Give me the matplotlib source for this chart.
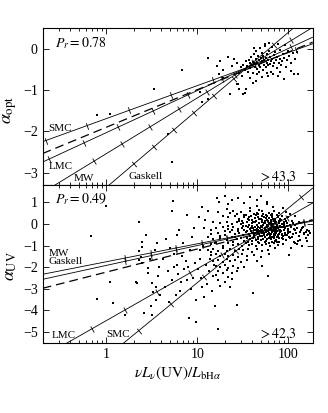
import numpy as np
import matplotlib.pyplot as plt
from matplotlib.ticker import LogLocator, FuncFormatter, NullFormatter, MultipleLocator

plt.rcParams['font.family'] = ['Liberation Serif', 'DejaVu Serif']
plt.rcParams['mathtext.fontset'] = 'stix'

# ---- top panel: alpha_opt ----
opt_pts = [
    (0.79, -1.61), (1.09, -1.59), (3.38, -0.97), (6.75, -0.52), (4.74, -2.07), (5.24, -2.74),
    (13.2, -0.23), (10.7, -1.05), (11.2, -1.29), (13.2, -1.21), (17.7, -0.30), (22.8, -1.10),
    (28.1, -0.86), (33.3, -1.06), (44.7, -0.78), (108, -0.54), (128, -0.62), (19.0, -0.50),
    (17.4, -0.62), (19.3, -0.70), (31.8, -1.10), (34.7, -0.98), (28.8, -0.97), (27, -0.85),
    (41, -0.82), (16.3, -0.42), (21.9, -0.19),
    (30.5, -0.45), (32.0, -0.38), (33.5, -0.52), (34.0, -0.30), (35.2, -0.41), (36.0, -0.55),
    (36.8, -0.26), (37.5, -0.35), (38.4, -0.47), (39.0, -0.20), (39.8, -0.40), (40.5, -0.31),
    (41.2, -0.58), (41.9, -0.12), (42.5, -0.36), (43.1, -0.44), (43.8, -0.25), (44.6, -0.05),
    (45.2, -0.33), (45.9, -0.48), (46.5, -0.18), (47.2, -0.39), (47.8, -0.28), (48.5, 0.03),
    (49.1, -0.43), (49.8, -0.22), (50.4, -0.35), (51.0, -0.10), (51.8, -0.30), (52.5, -0.52),
    (53.2, -0.17), (54.0, -0.38), (54.8, -0.26), (55.5, 0.08), (56.3, -0.45), (57.0, -0.21),
    (57.8, -0.33), (58.6, -0.12), (59.5, -0.40), (60.4, -0.27), (61.3, -0.05), (62.2, -0.36),
    (63.1, -0.19), (64.0, -0.55), (65.0, -0.30), (66.0, 0.05), (67.1, -0.24), (68.2, -0.42),
    (69.3, -0.15), (70.5, -0.33), (71.8, -0.08), (73.0, -0.28), (74.4, -0.47), (75.8, -0.20),
    (77.2, 0.12), (78.8, -0.35), (80.4, -0.25), (82.0, -0.02), (84.0, -0.40), (86.0, -0.30),
    (88.0, -0.12), (90.5, -0.22), (93.0, 0.10), (96.0, -0.28), (99.0, -0.05), (103, -0.18),
    (107, -0.35), (112, -0.10), (118, -0.25), (125, -0.08), (45.0, -0.62), (52.0, -0.68),
    (60.0, -0.65), (68.0, -0.60), (77.0, -0.66), (90.0, -0.72), (38.0, -0.70), (55.0, 0.12),
    (62.0, 0.15), (48.0, -0.55), (27.0, -0.33), (25.5, -0.24), (29.0, -0.58), (24.0, -0.42),
    (31.0, -0.66), (42.0, 0.02), (58.0, -0.58), (82.0, -0.55), (95.0, -0.45), (115, -0.60),
]

# reddening lines: alpha = b + m*log10(x); ticks at given x
opt_names = ['SMC', 'LMC', 'MW', 'Gaskell']
opt_b = [-1.69, -2.03, -2.54, -3.36]
opt_m = [0.80, 1.02, 1.35, 1.88]
opt_ticks = [
    [0.216, 0.617, 1.78, 5.13, 14.8, 42.7, 123],
    [0.237, 0.569, 1.36, 3.27, 7.85, 18.8, 45.2, 108],
    [0.733, 1.50, 3.05, 6.24, 12.7, 26.0, 53.1, 108],
    [2.0, 3.31, 5.5, 9.12, 15.1, 25.1, 41.7, 69.2],
]
opt_fit = (-1.90, 0.91)

# ---- bottom panel: alpha_UV ----
uv_pts = [
    (1.0, 0.85), (0.68, -0.58), (0.79, -3.49), (1.18, -3.68), (1.1, -2.67), (1.61, -4.22),
    (2.3, 0.07), (2.7, -0.50), (2.5, -0.85), (2.45, -1.07), (2.3, -1.25), (2.4, -1.51),
    (2.3, -1.69), (2.5, -1.81), (2.9, -2.05), (2.9, -2.28), (2.1, -2.71), (2.2, -2.75),
    (3.2, -2.74), (3.3, -3.13), (3.2, -4.22), (2.6, -4.14), (3.5, -3.5), (3.0, -1.6),
    (3.4, -1.2), (3.6, -0.9), (3.8, -2.0), (3.7, -2.4), (3.5, -2.9), (3.9, -3.3), (3.1, -3.8),
    (5.46, 1.05), (5.24, 0.59), (7.65, 0.40), (4.5, -0.7), (5.0, -1.1), (5.5, -1.4), (6.0, -1.9),
    (4.2, -1.6), (4.8, -2.2), (5.3, -2.6), (6.2, -2.3), (6.8, -1.5), (7.2, -2.1), (7.8, -2.6),
    (8.1, -4.37), (9.8, -4.53), (6.5, -3.1), (5.8, -3.3), (8.5, -3.0), (9.0, -2.5), (7.0, -0.9),
    (8.3, -1.2), (9.5, -1.8), (6.3, -0.3), (8.8, -0.6), (4.4, -2.9), (9.3, -0.2), (7.5, -1.7),
    (8.0, -2.0), (9.7, -3.5), (5.6, -2.0), (6.7, -2.7), (4.9, -3.6), (6.0, -0.5),
    (11.2, 0.79), (10.5, 0.3), (12.0, -0.2), (13.0, -0.6), (11.5, -1.0), (14.0, -1.3),
    (10.8, -1.6), (12.5, -1.9), (13.5, -2.2), (11.0, -2.5), (12.8, -2.8), (14.5, -3.1),
    (15.0, -2.4), (13.8, -1.6), (15.5, -0.9), (10.2, -2.1), (14.2, -0.3), (11.8, -3.4),
    (15.8, -3.8), (12.2, 0.2), (13.2, 0.6), (14.8, 0.1), (15.3, -1.9), (10.6, -1.2), (11.4, -2.9),
    (16.3, 1.21), (17.5, 1.0), (20, 1.3), (22, 0.9), (24, 1.1), (28, 1.2), (33, 0.95), (38, 1.25),
    (45, 1.1), (50, 1.3), (58, 0.9), (17.0, -4.84), (27.4, -3.75), (41, -3.18), (60.2, -2.40),
    (51, -1.94), (101.6, -1.43), (127.6, -0.81), (157, -0.39), (150, -0.45), (140, -0.2),
    (165, -0.5), (118, -0.9), (108, -1.1),
    (30, 0.55), (38, 0.62), (45, 0.5), (52, 0.58), (61, 0.52), (70, 0.6), (42, 0.45), (57, 0.42),
    (66, 0.47), (80, 0.5), (34, 0.4), (48, 0.66),
    (22, 0.3), (26, 0.35), (29, 0.25), (33, 0.32), (36, 0.22), (39, 0.38), (43, 0.28), (46, 0.34),
    (50, 0.24), (54, 0.31), (58, 0.36), (62, 0.26), (67, 0.33), (72, 0.22), (78, 0.3), (85, 0.35),
    (92, 0.25), (100, 0.3), (40, 0.18), (55, 0.15), (70, 0.12), (90, 0.1),
    (18, 0.05), (21, 0.1), (24, 0.0), (27, 0.08), (30, -0.02), (32, 0.06), (35, 0.1), (37, -0.04),
    (40, 0.03), (43, 0.08), (45, -0.05), (48, 0.02), (51, 0.09), (53, -0.03), (56, 0.05),
    (59, -0.06), (62, 0.04), (65, 0.08), (68, -0.02), (72, 0.05), (76, -0.05), (80, 0.06),
    (85, 0.0), (90, -0.04), (96, 0.05), (104, -0.03), (112, 0.02), (120, -0.05),
    (16, -0.2), (19, -0.15), (22, -0.25), (25, -0.12), (28, -0.22), (31, -0.17), (33, -0.28),
    (36, -0.14), (38, -0.24), (41, -0.18), (44, -0.26), (46, -0.12), (49, -0.21), (52, -0.16),
    (55, -0.27), (58, -0.13), (61, -0.23), (64, -0.18), (67, -0.28), (71, -0.14), (74, -0.22),
    (78, -0.17), (82, -0.26), (87, -0.12), (93, -0.2), (99, -0.25), (106, -0.15), (115, -0.22),
    (125, -0.18), (138, -0.28),
    (14, -0.45), (17, -0.4), (20, -0.5), (23, -0.38), (26, -0.48), (29, -0.42), (32, -0.52),
    (34, -0.36), (37, -0.46), (40, -0.4), (42, -0.5), (45, -0.37), (48, -0.47), (51, -0.41),
    (54, -0.52), (57, -0.38), (60, -0.45), (63, -0.5), (66, -0.39), (70, -0.47), (73, -0.42),
    (77, -0.52), (81, -0.37), (86, -0.46), (91, -0.41), (97, -0.5), (105, -0.38), (113, -0.47),
    (122, -0.42), (135, -0.36),
    (15, -0.7), (18, -0.65), (21, -0.75), (24, -0.62), (27, -0.72), (30, -0.66), (33, -0.77),
    (35, -0.63), (38, -0.71), (41, -0.67), (44, -0.76), (47, -0.62), (50, -0.73), (53, -0.68),
    (57, -0.78), (61, -0.64), (65, -0.72), (69, -0.67), (74, -0.75), (80, -0.63), (87, -0.7),
    (95, -0.76), (104, -0.65),
    (14, -0.95), (16, -0.9), (19, -1.0), (22, -0.88), (25, -0.98), (28, -0.92), (31, -1.02),
    (34, -0.89), (37, -0.97), (40, -0.93), (44, -1.03), (48, -0.9), (52, -0.98), (57, -0.94),
    (63, -1.02), (70, -0.9), (78, -0.98), (88, -0.93),
    (13, -1.2), (15, -1.15), (17, -1.25), (19, -1.13), (21, -1.23), (23, -1.17), (26, -1.27),
    (29, -1.14), (32, -1.22), (36, -1.18), (40, -1.28), (45, -1.15), (52, -1.24), (60, -1.2),
    (72, -1.12),
    (14, -1.45), (16, -1.4), (18, -1.5), (20, -1.38), (22, -1.48), (25, -1.42), (28, -1.52),
    (31, -1.4), (35, -1.47), (42, -1.43), (50, -1.55), (62, -1.38),
    (15, -1.7), (17, -1.65), (19, -1.75), (21, -1.62), (23, -1.72), (26, -1.68), (30, -1.78),
    (35, -1.65), (45, -1.72),
    (16, -1.95), (18, -2.0), (20, -1.9), (22, -2.02), (25, -1.93), (28, -2.05), (33, -1.97),
    (17, -2.2), (19, -2.25), (21, -2.15), (24, -2.28), (27, -2.18), (16, -2.35), (22, -2.45),
    (17, -2.6), (20, -2.7), (24, -2.55), (18, -2.85), (23, -2.9),
    (31, 0.15), (34, -0.08), (37, 0.2), (39, -0.33), (42, -0.6), (44, 0.15), (47, -0.3),
    (49, -0.58), (51, 0.18), (53, -0.36), (56, -0.62), (58, 0.2), (60, -0.34), (63, -0.6),
    (65, 0.17), (67, -0.1), (69, -0.56), (71, 0.2), (73, -0.32), (75, -0.6), (79, 0.15),
    (83, -0.35), (88, -0.58), (94, 0.15), (101, -0.6), (109, 0.12), (36, -0.85), (46, -0.84),
    (55, -0.85), (66, -0.84), (76, -0.82), (33, 0.42), (44, 0.4), (53, 0.44), (64, 0.4),
    (75, 0.42), (28, -0.35), (26, -0.6), (24, -0.3), (29, 0.15), (25, -0.85), (20, -0.32),
    (18, -0.55), (22, -0.1), (40, -0.1), (50, -0.1), (60, -0.08), (70, -0.35), (80, -0.83),
    (90, -0.3), (100, -0.42), (110, -0.6), (120, -0.3), (130, -0.55), (145, -0.15), (150, -0.4),
    (160, -0.3), (170, -0.35), (155, -0.65), (135, -0.75), (125, -0.95), (115, -0.85),
    (140, -1.0), (160, -0.8), (175, -0.4), (130, 0.1), (105, 0.45), (118, 0.35), (95, 0.55),
    (88, 0.75), (68, 0.8), (45, 0.85), (38, 0.75), (58, 1.0),
    (17, 0.55), (19, 0.35), (21, 0.7), (23, 0.5), (25, 0.62), (27, 0.45),
    # extra core of the blob
    (32, -0.1), (35, -0.32), (38, -0.55), (41, 0.1), (43, -0.42), (46, -0.68), (48, 0.22),
    (50, -0.3), (52, -0.55), (54, 0.05), (56, -0.18), (58, -0.7), (60, 0.12), (62, -0.42),
    (64, -0.02), (66, -0.6), (68, 0.25), (70, -0.22), (72, -0.5), (74, 0.08), (76, -0.35),
    (78, -0.62), (81, 0.22), (84, -0.15), (86, -0.65), (89, 0.0), (92, -0.52), (96, -0.1),
    (37, 0.3), (40, -0.78), (43, -0.12), (47, 0.45), (52, 0.35), (57, 0.28), (61, -0.9),
    (66, 0.36), (71, -0.8), (77, 0.38), (84, 0.2), (39, -0.2), (42, -0.28), (45, -0.22),
    (48, -0.35), (51, -0.27), (54, -0.44), (57, -0.3), (59, -0.52), (62, -0.25), (65, -0.45),
    (68, -0.15), (72, -0.4), (75, -0.12), (79, -0.45), (82, -0.1), (85, -0.5), (99, -0.32),
]

uv_names = ['MW', 'Gaskell', 'LMC', 'SMC']
uv_b = [-1.75, -1.92, -4.475, -6.17]
uv_m = [0.83, 0.92, 2.40, 3.45]
uv_ticks = [
    [1.62, 3.09, 5.89, 11.2, 21.4, 40.7, 77.6, 148],
    [1.62, 3.09, 5.89, 11.2, 21.4, 40.7, 77.6, 148],
    [0.703, 1.60, 3.62, 8.22, 18.7, 42.4, 96.2],
    [2.28, 5.18, 11.8, 26.8, 61.0, 139],
]
uv_fit = (-2.23, 1.07)

xlim = (0.2, 185)

fig = plt.figure(figsize=(3.28, 4.13), dpi=100)
ax1 = fig.add_axes([0.130, 0.552, 0.823, 0.3795])
ax2 = fig.add_axes([0.130, 0.170, 0.823, 0.382])


def draw_panel(ax, pts, bs, ms, ticks, fit, ylim, dot):
    ax.set_xscale('log')
    ax.set_xlim(*xlim)
    ax.set_ylim(*ylim)
    # pixel scale for perpendicular tick strokes
    w_px = ax.get_position().width * 328
    h_px = ax.get_position().height * 413
    dec_px = w_px / np.log10(xlim[1] / xlim[0])
    a_px = h_px / (ylim[1] - ylim[0])
    xx = np.logspace(np.log10(xlim[0]), np.log10(xlim[1]), 60)
    for b, m, tx in zip(bs, ms, ticks):
        ax.plot(xx, b + m * np.log10(xx), color='k', lw=0.6)
        ang = np.degrees(np.arctan(m * a_px / dec_px))
        tx = np.array(tx)
        ax.plot(tx, b + m * np.log10(tx), ls='none', marker=(2, 0, ang),
                ms=5, mew=0.6, color='k')
    ax.plot(xx, fit[0] + fit[1] * np.log10(xx), color='k', lw=0.9, dashes=(7, 4))
    px = [p[0] for p in pts]
    py = [p[1] for p in pts]
    ax.plot(px, py, 's', ms=dot, mfc='k', mec='k', mew=0)
    ax.xaxis.set_major_locator(LogLocator(base=10))
    ax.xaxis.set_minor_locator(LogLocator(base=10, subs=np.arange(2, 10)))
    ax.xaxis.set_major_formatter(FuncFormatter(lambda v, p: f'{v:g}'))
    ax.xaxis.set_minor_formatter(NullFormatter())
    ax.yaxis.set_major_locator(MultipleLocator(1))
    ax.tick_params(which='both', direction='in', top=True, right=True, width=0.6, labelsize=10)
    ax.tick_params(which='major', length=4)
    ax.tick_params(which='minor', length=2.2)
    for s in ax.spines.values():
        s.set_linewidth(0.8)


draw_panel(ax1, opt_pts, opt_b, opt_m, opt_ticks, opt_fit, (-3.3, 0.5), 1.8)
draw_panel(ax2, uv_pts, uv_b, uv_m, uv_ticks, uv_fit, (-5.5, 1.8), 2.0)
ax1.tick_params(labelbottom=False)

ax1.text(0.046, 0.908, r'$P_r = 0.78$', transform=ax1.transAxes, fontsize=10, va='center')
ax1.text(0.94, 0.055, r'$>43.3$', transform=ax1.transAxes, fontsize=10, va='center', ha='right')
ax1.text(0.021, 0.362, 'SMC', transform=ax1.transAxes, fontsize=8, va='center')
ax1.text(0.021, 0.117, 'LMC', transform=ax1.transAxes, fontsize=8, va='center')
ax1.text(0.116, 0.043, 'MW', transform=ax1.transAxes, fontsize=8, va='center')
ax1.text(0.317, 0.057, 'Gaskell', transform=ax1.transAxes, fontsize=8, va='center')

ax2.text(0.046, 0.909, r'$P_r = 0.49$', transform=ax2.transAxes, fontsize=10, va='center')
ax2.text(0.94, 0.06, r'$>42.3$', transform=ax2.transAxes, fontsize=10, va='center', ha='right')
ax2.text(0.021, 0.567, 'MW', transform=ax2.transAxes, fontsize=8, va='center')
ax2.text(0.021, 0.514, 'Gaskell', transform=ax2.transAxes, fontsize=8, va='center')
ax2.text(0.033, 0.049, 'LMC', transform=ax2.transAxes, fontsize=8, va='center')
ax2.text(0.235, 0.053, 'SMC', transform=ax2.transAxes, fontsize=8, va='center')

fig.text(0.032, 0.735, r'$\alpha_{\mathrm{opt}}$', rotation=90, fontsize=13, ha='center', va='center')
fig.text(0.032, 0.355, r'$\alpha_{\mathrm{UV}}$', rotation=90, fontsize=13, ha='center', va='center')
fig.text(0.541, 0.097, r'$\nu L_\nu(\mathrm{UV})/L_{\mathrm{bH}\alpha}$', fontsize=11,
         ha='center', va='center')

fig.savefig('out.png', dpi=100)
